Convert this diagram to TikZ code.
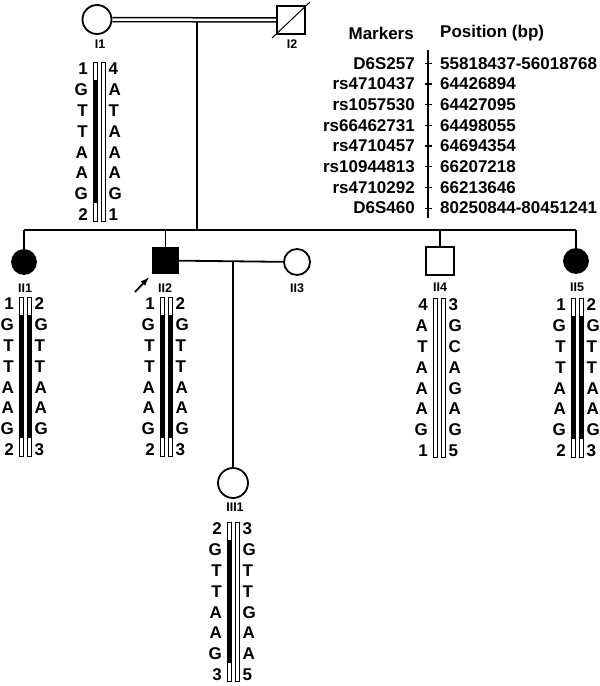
\documentclass[tikz,border=0pt]{standalone}
\usepackage{fontspec}
\setmainfont{Liberation Sans}
\usepackage{tikz}
\usetikzlibrary{arrows, positioning}

\tikzset{
  line/.style={line width=1.8pt},
  female/.style={circle, draw, line width=1.8pt, inner sep=0pt},
  male/.style={rectangle, draw, line width=1.8pt, inner sep=0pt},
  affected/.style={fill=black},
  idlabel/.style={inner sep=0pt, font=\bfseries\fontsize{12.5}{14}\selectfont},
  allele/.style={inner sep=0pt, font=\bfseries\fontsize{17}{19}\selectfont},
  hapbar/.style={draw, fill=white, line width=0.8pt}
}

% one chromosome bar: x, top row y, black part (1) or not (0)
\newcommand{\hapbar}[3]{%
  \draw[hapbar] (#1,#2-7) rectangle ++(4,159);
  \ifnum#3=1 \fill[black] (#1,#2+11) rectangle ++(4,123);\fi
}
% two bars with alleles: name, x, top row y, left, right, left black, right black
\newcommand{\haplo}[7]{%
  \hapbar{#2}{#3}{#6}
  \hapbar{#2+8}{#3}{#7}
  \foreach \a [count=\i] in {#4}
    \node[allele, anchor=east] (#1l\i) at (#2-5,#3+20.8*\i-20.8) {\a};
  \foreach \a [count=\i] in {#5}
    \node[allele, anchor=west] (#1r\i) at (#2+15.5,#3+20.8*\i-20.8) {\a};
}

\begin{document}
\begin{tikzpicture}[x=1pt, y=-1pt]
  \useasboundingbox (0,0) rectangle (600,686);
  % generation I
  \node[female, minimum size=29] (I1) at (97,19.5) {};
  \node[male, minimum size=28] (I2) at (291,20) {};
  \draw[line width=1pt] (272,38) -- (310,2);
  \draw[line width=1.5pt, double, double distance=2.5pt] (I1) -- (I2);
  \node[idlabel] (lI1) at (100,44) {I1};
  \node[idlabel] (lI2) at (292,44) {I2};
  \coordinate (u1) at (197,21.5);
  \coordinate (sib) at (197,230);
  % generation II
  \node[female, affected, minimum size=24] (II1) at (24,262) {};
  \node[male, affected, minimum size=25] (II2) at (165.5,260.5) {};
  \node[female, minimum size=26] (II3) at (297,262) {};
  \node[male, minimum size=28] (II4) at (440,261) {};
  \node[female, affected, minimum size=24] (II5) at (576,261) {};
  \draw[line] (u1) -- (sib);
  \draw[line] (II1 |- sib) -- (II5 |- sib);
  \foreach \c in {II1, II2, II4, II5}
    \draw[line] (\c |- sib) -- (\c);
  \draw[line] (II2) -- (II3);
  \node[idlabel] (lII1) at (25,288) {II1};
  \node[idlabel] (lII2) at (165,288) {II2};
  \node[idlabel] (lII3) at (297,288) {II3};
  \node[idlabel] (lII4) at (440,287) {II4};
  \node[idlabel] (lII5) at (577,287) {II5};
  % proband
  \coordinate (pa) at (135,292);
  \draw[line width=1.8pt, -latex, shorten >=5pt] (pa) -- (II2.south west);
  % generation III
  \coordinate (u2) at (233,261);
  \node[female, minimum size=30] (III1) at (233,483) {};
  \draw[line] (u2) -- (III1);
  \node[idlabel] (lIII1) at (235,507) {III1};
  % haplotypes
  \haplo{hI1}{93}{69}{1,G,T,T,A,A,G,2}{4,A,T,A,A,A,G,1}{1}{0}
  \haplo{hII1}{19}{304}{1,G,T,T,A,A,G,2}{2,G,T,T,A,A,G,3}{1}{1}
  \haplo{hII2}{160}{304}{1,G,T,T,A,A,G,2}{2,G,T,T,A,A,G,3}{1}{1}
  \haplo{hII4}{433}{305}{4,A,T,A,A,A,G,1}{3,G,C,A,G,A,G,5}{0}{0}
  \haplo{hII5}{571}{305}{1,G,T,T,A,A,G,2}{2,G,T,T,A,A,G,3}{1}{1}
  \haplo{hIII1}{227}{529}{2,G,T,T,A,A,G,3}{3,G,T,T,G,A,A,5}{1}{0}
  % markers
  \node[allele, anchor=east] (mk) at (414,33) {Markers};
  \node[allele, anchor=west] (ps) at (440,33) {Position (bp)};
  \draw[line] (428,50) -- (428,218);
  \foreach \m/\p [count=\i] in {D6S257/55818437-56018768, rs4710437/64426894,
      rs1057530/64427095, rs66462731/64498055, rs4710457/64694354,
      rs10944813/66207218, rs4710292/66213646, D6S460/80250844-80451241}{
    \node[allele, anchor=east] (m\i) at (415,42.5+20.7*\i) {\m};
    \node[allele, anchor=west] (p\i) at (440,42.5+20.7*\i) {\p};
    \draw[line width=1.2pt] (424.5,42.5+20.7*\i) -- (431.5,42.5+20.7*\i);
  }
\end{tikzpicture}
\end{document}
